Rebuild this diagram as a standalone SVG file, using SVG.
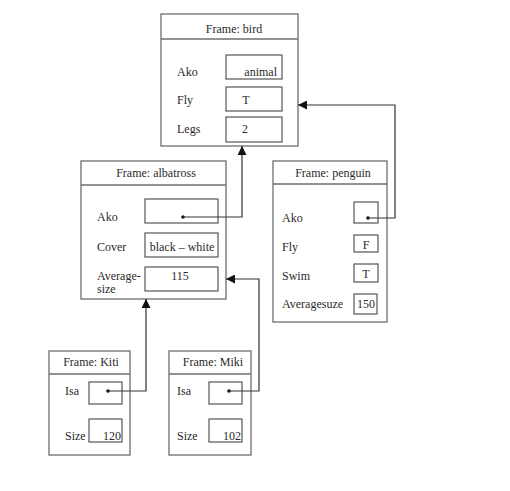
<svg xmlns="http://www.w3.org/2000/svg" width="510" height="491" viewBox="0 0 510 491">
<defs>
<style>
.frame{fill:#fff;stroke:#6e6e6e;stroke-width:1.3}
.slot{fill:#fff;stroke:#555;stroke-width:1.2}
.t{font-family:"Liberation Serif","Times New Roman",serif;font-size:12px;fill:#2a2a2a}
.m{text-anchor:middle}
.e{text-anchor:end}
.c{fill:none;stroke:#333;stroke-width:1.2}
.dot{fill:#111}
</style>
<marker id="ah" viewBox="0 0 10 10" refX="10" refY="5" markerWidth="9" markerHeight="9" markerUnits="userSpaceOnUse" orient="auto">
<path d="M0,0 L10,5 L0,10 z" fill="#111"/>
</marker>
</defs>
<rect width="510" height="491" fill="#fff"/>

<g id="bird">
<rect class="frame" x="161" y="14" width="137" height="132"/>
<line class="frame" x1="161" y1="39" x2="298" y2="39"/>
<text class="t m" x="234" y="33">Frame: bird</text>
<text class="t" x="177" y="76">Ako</text>
<text class="t" x="177" y="104">Fly</text>
<text class="t" x="177" y="133">Legs</text>
<rect class="slot" x="226" y="55" width="56" height="24"/>
<rect class="slot" x="226" y="87" width="56" height="24"/>
<rect class="slot" x="226" y="117" width="56" height="25"/>
<text class="t e" x="277" y="76">animal</text>
<text class="t m" x="246" y="104">T</text>
<text class="t m" x="245" y="133">2</text>
</g>

<g id="albatross">
<rect class="frame" x="81" y="161" width="145" height="138"/>
<line class="frame" x1="81" y1="185" x2="226" y2="185"/>
<text class="t m" x="156" y="177">Frame: albatross</text>
<text class="t" x="97" y="221">Ako</text>
<text class="t" x="97" y="251">Cover</text>
<text class="t" x="97" y="280">Average-</text>
<text class="t" x="97" y="293">size</text>
<rect class="slot" x="145" y="199" width="73" height="24"/>
<rect class="slot" x="145" y="233" width="73" height="24"/>
<rect class="slot" x="145" y="267" width="73" height="24"/>
<text class="t m" x="182" y="251">black – white</text>
<text class="t m" x="180" y="280">115</text>
</g>

<g id="penguin">
<rect class="frame" x="273" y="161" width="114" height="161"/>
<line class="frame" x1="273" y1="184" x2="387" y2="184"/>
<text class="t m" x="333" y="177">Frame: penguin</text>
<text class="t" x="282" y="222">Ako</text>
<text class="t" x="282" y="251">Fly</text>
<text class="t" x="282" y="280">Swim</text>
<text class="t" x="282" y="308">Averagesuze</text>
<rect class="slot" x="354" y="202" width="24" height="21"/>
<rect class="slot" x="354" y="235" width="24" height="17"/>
<rect class="slot" x="354" y="264" width="24" height="18"/>
<rect class="slot" x="354" y="294" width="23" height="20"/>
<text class="t m" x="366" y="249">F</text>
<text class="t m" x="366" y="278">T</text>
<text class="t m" x="366" y="308">150</text>
</g>

<g id="kiti">
<rect class="frame" x="49" y="351" width="81" height="104"/>
<line class="frame" x1="49" y1="374" x2="130" y2="374"/>
<text class="t m" x="91" y="366">Frame: Kiti</text>
<text class="t" x="65" y="395">Isa</text>
<text class="t" x="65" y="440">Size</text>
<rect class="slot" x="89" y="382" width="33" height="22"/>
<rect class="slot" x="89" y="419" width="33" height="23"/>
<text class="t e" x="121" y="440">120</text>
</g>

<g id="miki">
<rect class="frame" x="169" y="351" width="82" height="104"/>
<line class="frame" x1="169" y1="374" x2="251" y2="374"/>
<text class="t m" x="213" y="366">Frame: Miki</text>
<text class="t" x="177" y="395">Isa</text>
<text class="t" x="177" y="440">Size</text>
<rect class="slot" x="209" y="382" width="33" height="22"/>
<rect class="slot" x="209" y="419" width="33" height="23"/>
<text class="t e" x="241" y="440">102</text>
</g>

<g id="connectors">
<circle class="dot" cx="183" cy="217" r="1.8"/>
<path class="c" d="M183,217 H242 V146" marker-end="url(#ah)"/>
<circle class="dot" cx="368" cy="218" r="1.8"/>
<path class="c" d="M368,218 H395 V105 H298" marker-end="url(#ah)"/>
<circle class="dot" cx="108" cy="391" r="1.8"/>
<path class="c" d="M108,391 H146 V299" marker-end="url(#ah)"/>
<circle class="dot" cx="229" cy="391" r="1.8"/>
<path class="c" d="M229,391 H259 V279 H226" marker-end="url(#ah)"/>
</g>
</svg>
